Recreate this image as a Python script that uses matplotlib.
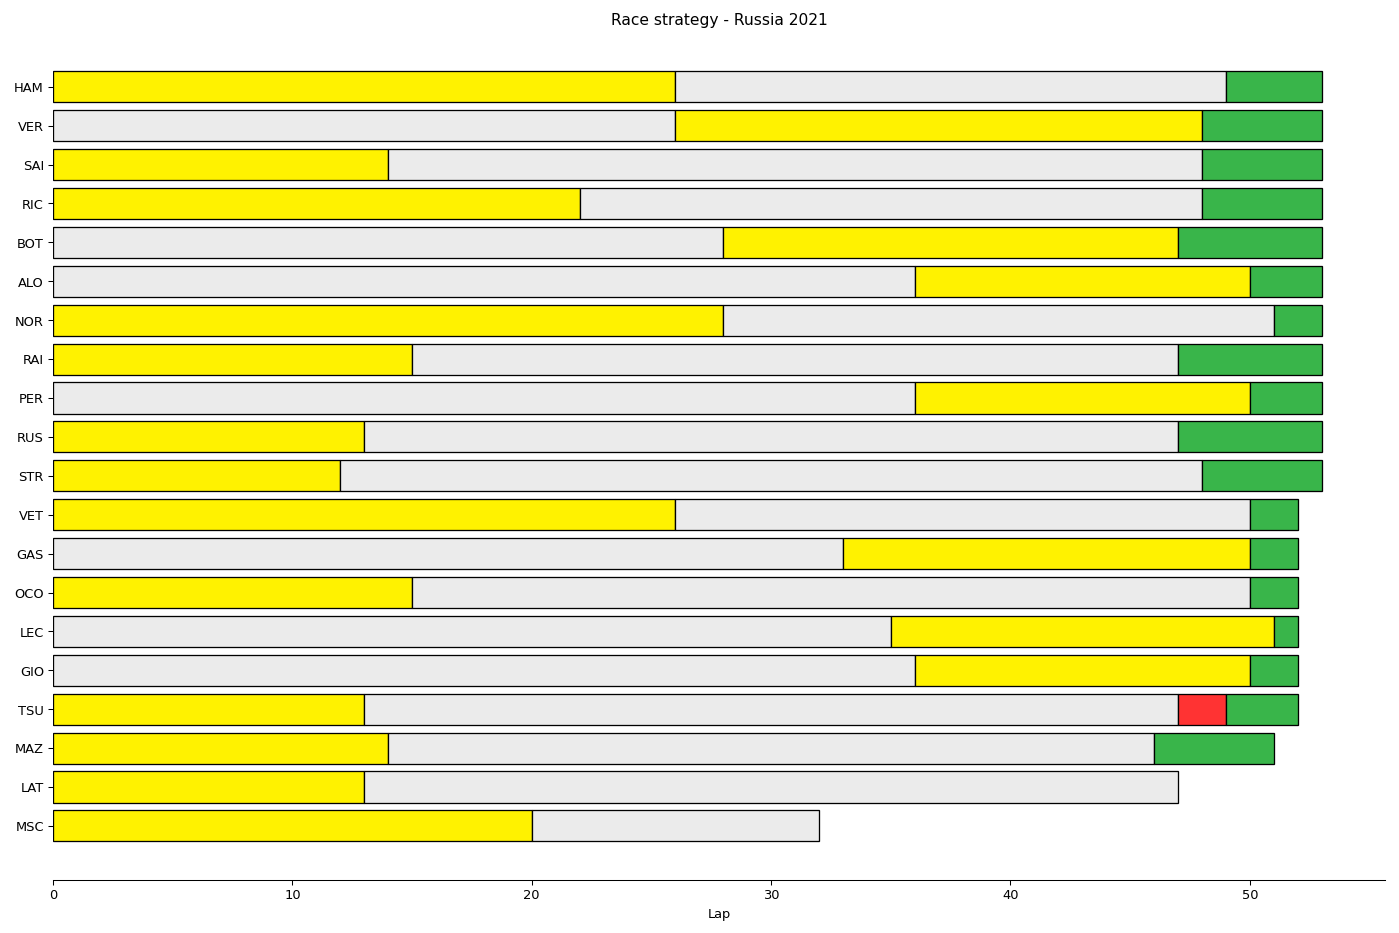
import matplotlib
matplotlib.use("Agg")
import matplotlib.pyplot as plt

drivers = ["HAM", "VER", "SAI", "RIC", "BOT", "ALO", "NOR", "RAI", "PER", "RUS",
           "STR", "VET", "GAS", "OCO", "LEC", "GIO", "TSU", "MAZ", "LAT", "MSC"]

stint1_compound = ["MEDIUM", "HARD", "MEDIUM", "MEDIUM", "HARD", "HARD", "MEDIUM", "MEDIUM", "HARD", "MEDIUM",
                   "MEDIUM", "MEDIUM", "HARD", "MEDIUM", "HARD", "HARD", "MEDIUM", "MEDIUM", "MEDIUM", "MEDIUM"]
stint1_laps = [26, 26, 14, 22, 28, 36, 28, 15, 36, 13, 12, 26, 33, 15, 35, 36, 13, 14, 13, 20]

stint2_compound = ["HARD", "MEDIUM", "HARD", "HARD", "MEDIUM", "MEDIUM", "HARD", "HARD", "MEDIUM", "HARD",
                   "HARD", "HARD", "MEDIUM", "HARD", "MEDIUM", "MEDIUM", "HARD", "HARD", "HARD", "HARD"]
stint2_laps = [23, 22, 34, 26, 19, 14, 23, 32, 14, 34, 36, 24, 17, 35, 16, 14, 34, 32, 34, 12]

stint3_compound = ["INTERMEDIATE", "INTERMEDIATE", "INTERMEDIATE", "INTERMEDIATE", "INTERMEDIATE",
                   "INTERMEDIATE", "INTERMEDIATE", "INTERMEDIATE", "INTERMEDIATE", "INTERMEDIATE",
                   "INTERMEDIATE", "INTERMEDIATE", "INTERMEDIATE", "INTERMEDIATE", "INTERMEDIATE",
                   "INTERMEDIATE", "SOFT", "INTERMEDIATE", None, None]
stint3_laps = [4, 5, 5, 5, 6, 3, 2, 6, 3, 6, 5, 2, 2, 2, 1, 2, 2, 5, 0, 0]

stint4_compound = [None] * 16 + ["INTERMEDIATE", None, None, None]
stint4_laps = [0] * 16 + [3, 0, 0, 0]

compound_colors = {
    "SOFT": "#FF3333",
    "MEDIUM": "#FFF200",
    "HARD": "#EBEBEB",
    "INTERMEDIATE": "#39B54A",
    "WET": "#00AEEF",
}

fig, ax = plt.subplots(figsize=(15, 10), dpi=93.333)
fig.subplots_adjust(left=0.0379, right=0.9893, top=0.9646, bottom=0.0568)

stints = [(stint1_compound, stint1_laps), (stint2_compound, stint2_laps),
          (stint3_compound, stint3_laps), (stint4_compound, stint4_laps)]

for i, drv in enumerate(drivers):
    left = 0
    for comps, laps in stints:
        c = comps[i]
        n = laps[i]
        if c is None or n == 0:
            continue
        ax.barh(y=drv, width=n, left=left, color=compound_colors[c],
                edgecolor="black", fill=True)
        left += n

ax.set_title("Race strategy - Russia 2021")
ax.set_xlabel("Lap")
ax.grid(False)
ax.invert_yaxis()
ax.spines["top"].set_visible(False)
ax.spines["right"].set_visible(False)
ax.spines["left"].set_visible(False)

fig.savefig("out.png", dpi=93.333)
